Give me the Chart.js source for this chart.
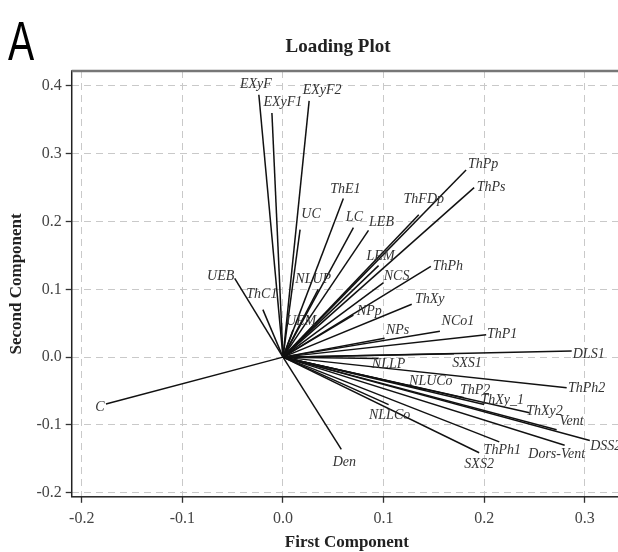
<!DOCTYPE html>
<html>
<head>
<meta charset="utf-8">
<script src="https://cdn.jsdelivr.net/npm/chart.js@4/dist/chart.umd.min.js"></script>
<style>
  html, body { margin: 0; padding: 0; background: #fff; overflow: hidden; }
  #wrap { width: 618px; height: 552px; overflow: hidden; }
</style>
</head>
<body>
<div id="wrap"><canvas id="chart-loading" width="630" height="552"></canvas></div>
<script>
// variable names and their loadings (first / second component)
var names = ['EXyF', 'EXyF1', 'EXyF2', 'UC', 'ThE1', 'LC', 'LEB', 'ThPp', 'ThPs', 'ThFDp',
    'LEM', 'ThPh', 'NCS', 'ThXy', 'NPp', 'NCo1', 'NPs', 'ThP1', 'DLS1', 'NLLP',
    'SXS1', 'ThPh2', 'NLUCo', 'ThP2', 'ThXy_1', 'ThXy2', 'Vent', 'DSS2', 'Dors-Vent', 'ThPh1',
    'SXS2', 'NLLCo', 'Den', 'C', 'UEB', 'ThC1', 'NLUP', 'UEM'];
var pc1 = [-0.024, -0.011, 0.026, 0.017, 0.060, 0.070, 0.085, 0.182, 0.190, 0.135,
    0.095, 0.147, 0.100, 0.128, 0.070, 0.156, 0.101, 0.202, 0.287, 0.095,
    0.170, 0.282, 0.142, 0.180, 0.200, 0.245, 0.272, 0.305, 0.280, 0.215,
    0.195, 0.105, 0.058, -0.176, -0.048, -0.020, 0.035, 0.010];
var pc2 = [0.387, 0.360, 0.378, 0.188, 0.234, 0.191, 0.187, 0.276, 0.250, 0.210,
    0.135, 0.134, 0.110, 0.078, 0.062, 0.038, 0.028, 0.033, 0.009, -0.002,
    0.005, -0.045, -0.048, -0.060, -0.070, -0.082, -0.107, -0.123, -0.130, -0.125,
    -0.141, -0.070, -0.136, -0.069, 0.116, 0.070, 0.100, 0.040];
var xTicks = [-0.2, -0.1, 0.0, 0.1, 0.2, 0.3];
var yTicks = [-0.2, -0.1, 0.0, 0.1, 0.2, 0.3, 0.4];

// label shift from the arrow tip, in pixels (layout only)
var labelShift = [[-3, -10], [11, -11], [13, -11], [11, -15], [2, -9], [1, -10], [13, -8], [17, -6], [17, 0], [5, -15],
    [2, -9], [17, 0], [13, -6], [18, -5], [16, -4], [18, -10], [13, -8], [16, 0], [17, 3], [10, 6],
    [13, 10], [20, 1], [5, -8], [11, -7], [18, -4], [15, -1], [15, -8], [16, 6], [-8, 9], [3, 8],
    [0, 12], [1, 11], [3, 13], [-6, 3], [-14, -2], [-1, -15], [-5, -10], [8, -9]];

var serif = '"Liberation Serif", "DejaVu Serif", serif';

var datasets = names.map(function(n, i) {
    return {
        label: n,
        data: [{x: 0, y: 0}, {x: pc1[i], y: pc2[i]}],
        showLine: true,
        borderColor: '#111',
        borderWidth: 1.5,
        pointRadius: 0
    };
});

var decorations = {
    id: 'decorations',
    afterDatasetsDraw: function(chart) {
        var ctx = chart.ctx, xs = chart.scales.x, ys = chart.scales.y, a = chart.chartArea;
        ctx.save();
        // vector labels
        ctx.font = 'italic 14px ' + serif;
        ctx.fillStyle = '#333';
        ctx.textAlign = 'center';
        ctx.textBaseline = 'middle';
        names.forEach(function(n, i) {
            var px = xs.getPixelForValue(pc1[i]) + labelShift[i][0];
            var py = ys.getPixelForValue(pc2[i]) + labelShift[i][1];
            ctx.fillText(n, px, py);
        });
        // frame
        ctx.strokeStyle = '#222';
        ctx.lineWidth = 1.5;
        ctx.strokeRect(a.left, a.top, a.right - a.left, a.bottom - a.top);
        ctx.strokeStyle = '#777';
        ctx.lineWidth = 2.5;
        ctx.beginPath();
        ctx.moveTo(a.left, a.top);
        ctx.lineTo(a.right, a.top);
        ctx.stroke();
        // title and panel letter
        ctx.fillStyle = '#222';
        ctx.font = 'bold 19px ' + serif;
        ctx.textBaseline = 'alphabetic';
        ctx.fillText('Loading Plot', 338, 52);
        ctx.fillStyle = '#000';
        ctx.textAlign = 'left';
        ctx.translate(8, 60);
        ctx.scale(0.7, 1);
        ctx.font = '56px "Liberation Sans", sans-serif';
        ctx.fillText('A', 0, 0);
        ctx.restore();
    }
};

var fixTicks = function(vals) {
    return function(axis) {
        axis.ticks = vals.map(function(v) { return {value: v}; });
    };
};

var gridOpts = {
    color: '#c9c9c9',
    lineWidth: 1,
    drawTicks: true,
    tickLength: 6,
    tickColor: '#333',
    tickWidth: 1.3,
    tickBorderDash: []
};

new Chart(document.getElementById('chart-loading').getContext('2d'), {
    type: 'scatter',
    data: {datasets: datasets},
    options: {
        responsive: false,
        animation: false,
        layout: {padding: {top: 71, right: 8, left: 6, bottom: 1}},
        plugins: {legend: {display: false}, tooltip: {enabled: false}},
        scales: {
            x: {
                min: -0.21, max: 0.337,
                afterBuildTicks: fixTicks(xTicks),
                border: {display: false, dash: [7, 5]},
                grid: gridOpts,
                ticks: {
                    color: '#444', padding: 6,
                    font: {family: serif, size: 16},
                    callback: function(v) { return v.toFixed(1); }
                },
                title: {
                    display: true, text: 'First Component', color: '#222',
                    font: {family: serif, size: 17, weight: 'bold', lineHeight: 1},
                    padding: {top: 0, bottom: 0}
                }
            },
            y: {
                min: -0.206, max: 0.422,
                afterBuildTicks: fixTicks(yTicks),
                border: {display: false, dash: [7, 5]},
                grid: gridOpts,
                ticks: {
                    color: '#444', padding: 4,
                    font: {family: serif, size: 16},
                    callback: function(v) { return v.toFixed(1); }
                },
                title: {
                    display: true, text: 'Second Component', color: '#222',
                    font: {family: serif, size: 17, weight: 'bold'},
                    padding: {top: 0, bottom: 6}
                }
            }
        }
    },
    plugins: [decorations]
});
</script>
</body>
</html>
